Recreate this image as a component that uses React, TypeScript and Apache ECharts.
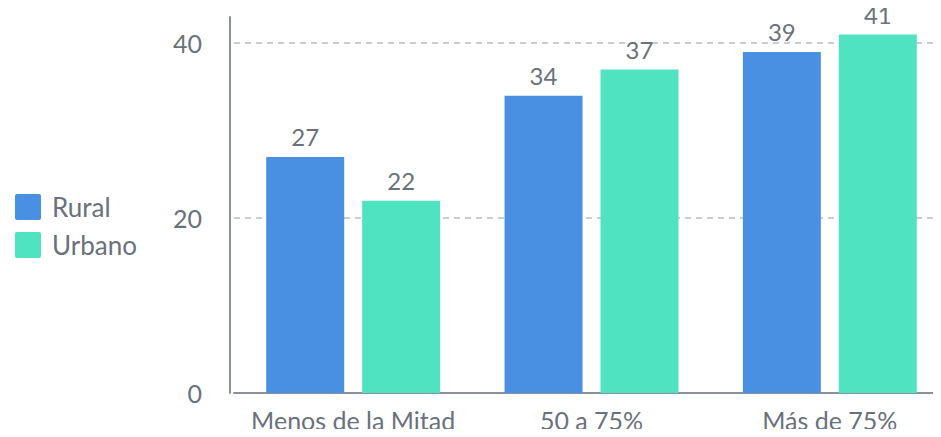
import React, { useEffect, useRef } from "react";
import * as echarts from "echarts";

const categories = ["Menos de la Mitad", "50 a 75%", "Más de 75%"];
const rural = [27, 34, 39];
const urbano = [22, 37, 41];
const seriesNames = ["Rural", "Urbano"];

const TEXT = "#69717b";
const FONT = "Lato";
const ICON =
  "path://M2,0 H24 A2,2 0 0 1 26,2 V24 A2,2 0 0 1 24,26 H2 A2,2 0 0 1 0,24 V2 A2,2 0 0 1 2,0 Z";

export default function App() {
  const ref = useRef<HTMLDivElement>(null);
  useEffect(() => {
    if (!ref.current) return;
    const chart = echarts.init(ref.current, undefined, { renderer: "svg" });
    chart.setOption({
      animation: false,
      textStyle: { fontFamily: FONT },
      legend: {
        orient: "vertical",
        left: 10,
        top: 189,
        itemWidth: 26,
        itemHeight: 26,
        itemGap: 12,
        icon: ICON,
        textStyle: { color: TEXT, fontSize: 26, fontFamily: FONT, padding: [0, 0, 0, 6] },
        data: seriesNames,
      },
      grid: { left: 234, width: 715, top: 17, bottom: 44, outerBoundsMode: "none", containLabel: false },
      xAxis: {
        type: "category",
        data: categories,
        axisLine: { lineStyle: { color: "#8a9199", width: 2 } },
        axisTick: { show: false },
        axisLabel: { color: TEXT, fontSize: 25, margin: 14, interval: 0, fontFamily: FONT },
      },
      yAxis: {
        type: "value",
        min: 0,
        max: 43,
        interval: 20,
        offset: 4,
        axisLine: { show: true, lineStyle: { color: "#8a9199", width: 2 } },
        axisTick: { show: false },
        axisLabel: { color: TEXT, fontSize: 25, margin: 28, showMaxLabel: false, fontFamily: FONT },
        splitLine: {
          show: true,
          showMinLine: false,
          showMaxLine: false,
          lineStyle: { color: "#b9bdc1", type: [6, 5], width: 1.5 },
        },
      },
      series: [
        {
          name: seriesNames[0],
          type: "bar",
          data: rural,
          barWidth: 78,
          barGap: "23%",
          clip: false,
          itemStyle: { color: "#4a90e2" },
          label: { show: true, position: "top", distance: 8, color: TEXT, fontSize: 24, fontFamily: FONT },
        },
        {
          name: seriesNames[1],
          type: "bar",
          data: urbano,
          barWidth: 78,
          barGap: "23%",
          clip: false,
          itemStyle: { color: "#50e3c2" },
          label: { show: true, position: "top", distance: 8, color: TEXT, fontSize: 24, fontFamily: FONT },
        },
      ],
    });
    return () => chart.dispose();
  }, []);
  return <div ref={ref} style={{ width: 941, height: 437, margin: -8 }} />;
}
